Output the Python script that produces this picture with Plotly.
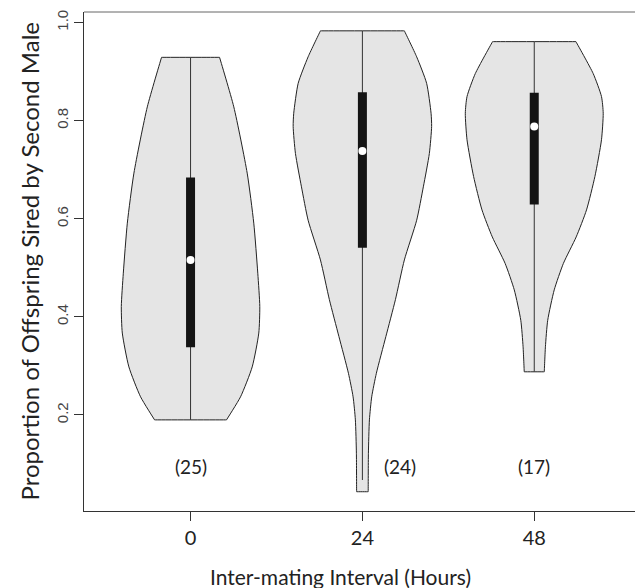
import plotly.graph_objects as go

# ---------------- data ----------------
groups = [0, 24, 48]                       # inter-mating interval (hours)
n_labels = ["(25)", "(24)", "(17)"]
label_x = [0, 29.3, 48]
label_y = [0.096, 0.096, 0.096]

q1 = [0.338, 0.541, 0.629]
median = [0.516, 0.738, 0.788]
q3 = [0.684, 0.858, 0.857]
whisker_lo = [0.190, 0.0675, 0.288]
whisker_hi = [0.929, 0.983, 0.961]

# density outline: y levels (top -> bottom) and half widths (in hours)
dens_y_0 = [0.929, 0.828, 0.693, 0.591, 0.489, 0.421, 0.367, 0.298, 0.237, 0.190]
dens_w_0 = [4.05, 6.04, 7.91, 8.83, 9.39, 9.67, 9.53, 8.61, 6.98, 5.02]

dens_y_24 = [0.983, 0.930, 0.876, 0.815, 0.788, 0.733, 0.665, 0.597, 0.516,
             0.435, 0.360, 0.285, 0.237, 0.190, 0.122, 0.0436]
dens_w_24 = [5.86, 7.58, 8.97, 9.59, 9.67, 9.35, 8.51, 7.58, 5.86,
             4.61, 3.28, 1.95, 1.30, 0.98, 0.84, 0.81]

dens_y_48 = [0.961, 0.896, 0.849, 0.815, 0.761, 0.686, 0.618, 0.563, 0.509,
             0.455, 0.393, 0.339, 0.288]
dens_w_48 = [5.82, 8.23, 9.39, 9.63, 9.39, 8.47, 7.30, 5.86, 4.07,
             2.79, 1.88, 1.56, 1.40]

dens_y = [dens_y_0, dens_y_24, dens_y_48]
dens_w = [dens_w_0, dens_w_24, dens_w_48]

x_ticks = [0, 24, 48]
x_ticklabels = ["0", "24", "48"]
y_ticks = [0.2, 0.4, 0.6, 0.8, 1.0]
y_ticklabels = ["0.2", "0.4", "0.6", "0.8", "1.0"]

# ---------------- style ----------------
FILL = "#e5e5e5"
OUTLINE = "#222222"
BOXCOL = "#141414"
TXT = "#222222"
BOX_PX = 9  # box width in pixels

fig = go.Figure()

for i, g in enumerate(groups):
    ys, ws = dens_y[i], dens_w[i]
    # right side top->bottom, then left side bottom->top; corners doubled to stay sharp
    rx = [g + w for w in ws]
    lx = [g - w for w in reversed(ws)]
    ry = list(ys)
    ly = list(reversed(ys))
    xs = [rx[0]] + rx + [rx[-1], lx[0]] + lx + [lx[-1], rx[0]]
    yy = [ry[0]] + ry + [ry[-1], ly[0]] + ly + [ly[-1], ry[0]]
    fig.add_trace(go.Scatter(x=xs, y=yy, mode="lines", fill="toself",
                             fillcolor=FILL, line=dict(color=OUTLINE, width=1, shape="spline", smoothing=0.6),
                             hoverinfo="skip", showlegend=False))
    # whisker
    fig.add_trace(go.Scatter(x=[g, g], y=[whisker_lo[i], whisker_hi[i]], mode="lines",
                             line=dict(color="#333333", width=1), hoverinfo="skip", showlegend=False))
    # box (IQR)
    fig.add_trace(go.Scatter(x=[g, g], y=[q1[i], q3[i]], mode="lines",
                             line=dict(color=BOXCOL, width=BOX_PX), hoverinfo="skip", showlegend=False))

# medians
fig.add_trace(go.Scatter(x=groups, y=median, mode="markers",
                         marker=dict(color="white", size=8, line=dict(width=0)),
                         hoverinfo="skip", showlegend=False))

# n labels
for x, y, t in zip(label_x, label_y, n_labels):
    fig.add_annotation(x=x, y=y, text=t, showarrow=False, xanchor="center", yanchor="middle",
                       font=dict(family="Lato", size=19, color=TXT))

# axis titles
fig.add_annotation(xref="paper", yref="paper", x=0.465, y=0, yshift=-65, text="Inter-mating Interval (Hours)",
                   showarrow=False, xanchor="center", yanchor="middle",
                   font=dict(family="Lato", size=21, color=TXT))
fig.add_annotation(xref="paper", yref="paper", x=0, xshift=-55, y=0.5, text="Proportion of Offspring Sired by Second Male",
                   showarrow=False, xanchor="center", yanchor="middle", textangle=-90,
                   font=dict(family="Lato", size=24, color=TXT))

# top border line
fig.add_shape(type="line", xref="paper", yref="paper", x0=0, x1=1, y0=1, y1=1,
              line=dict(color="#666666", width=1))

fig.update_layout(
    width=635, height=588,
    margin=dict(l=84, r=0, t=12, b=77),
    paper_bgcolor="white", plot_bgcolor="white",
    xaxis=dict(range=[-14.88, 62.07], tickmode="array", tickvals=x_ticks, ticktext=x_ticklabels,
               showgrid=False, zeroline=False, showline=True, linecolor="#333333", linewidth=1,
               ticks="outside", ticklen=9, tickcolor="#333333",
               tickfont=dict(family="Lato", size=20, color=TXT)),
    yaxis=dict(range=[0.0043, 1.0214], tickmode="array", tickvals=y_ticks, ticktext=y_ticklabels,
               showgrid=False, zeroline=False, showline=True, linecolor="#333333", linewidth=1,
               ticks="outside", ticklen=9, tickcolor="#333333", tickangle=-90,
               tickfont=dict(family="Liberation Sans", size=15, color="#444444")),
)

fig.write_html("out.html", config={"displayModeBar": False},
               post_script="document.body.style.margin='0';document.body.style.padding='0';")
